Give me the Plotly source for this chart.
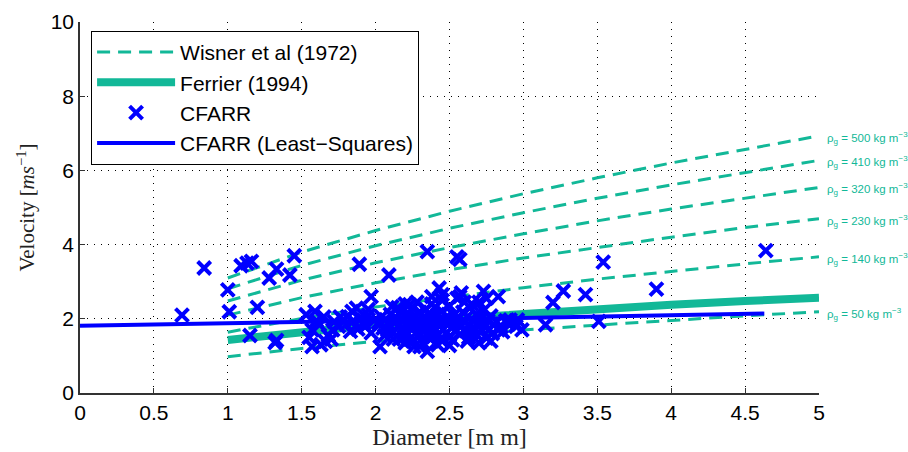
import plotly.graph_objects as go

# ---------------- data ----------------
wisner_d = [1.0, 1.5, 2.0, 2.5, 3.0, 3.5, 4.0, 4.5, 5.0]
wisner_rho = [500, 410, 320, 230, 140, 50]
wisner_v500 = [3.10, 3.80, 4.38, 4.90, 5.37, 5.80, 6.20, 6.57, 6.93]
wisner_v410 = [2.81, 3.44, 3.97, 4.44, 4.86, 5.25, 5.61, 5.95, 6.27]
wisner_v320 = [2.48, 3.04, 3.51, 3.92, 4.29, 4.64, 4.96, 5.26, 5.54]
wisner_v230 = [2.10, 2.57, 2.97, 3.32, 3.64, 3.93, 4.20, 4.46, 4.70]
wisner_v140 = [1.64, 2.01, 2.32, 2.59, 2.84, 3.07, 3.28, 3.48, 3.67]
wisner_v50 = [0.98, 1.20, 1.39, 1.55, 1.70, 1.83, 1.96, 2.08, 2.19]

ferrier_d = [1.0, 1.5, 2.0, 2.5, 3.0, 3.5, 4.0, 4.5, 5.0]
ferrier_v = [1.43, 1.65, 1.84, 2.00, 2.14, 2.27, 2.38, 2.48, 2.57]

ls_d = [0.0, 4.63]
ls_v = [1.81, 2.14]

cfarr_points = [
    (0.69, 2.10), (0.84, 3.37), (1.00, 2.78), (1.01, 2.19), (1.09, 3.43), (1.13, 3.50),
    (1.16, 3.55), (1.20, 2.31), (1.15, 1.55), (1.32, 1.36), (1.33, 1.42), (1.28, 3.10),
    (1.33, 3.34), (1.42, 3.18), (1.45, 3.70), (1.89, 3.47), (2.09, 3.18), (2.35, 3.81),
    (2.55, 3.67), (2.57, 3.60), (3.54, 3.53), (4.64, 3.84), (3.90, 2.80), (3.42, 2.65),
    (3.27, 2.75), (3.20, 2.44), (3.51, 1.93), (3.15, 1.84), (2.83, 2.60), (2.73, 2.74),
    (2.57, 2.60), (2.99, 1.70), (2.96, 1.97), (2.91, 1.97), (2.83, 1.70), (2.63, 1.49),
    (2.52, 1.43),
    (1.53, 2.11), (1.59, 2.20), (1.57, 1.70), (1.57, 1.25), (1.66, 1.39), (1.62, 1.84),
    (1.71, 1.70), (1.81, 2.06), (1.87, 2.29), (1.97, 2.60), (2.03, 1.25), (2.08, 1.70),
    (1.93, 1.79), (1.83, 1.66), (1.55, 1.50), (1.60, 1.95), (1.65, 2.05), (1.68, 1.55),
    (1.72, 1.92), (1.75, 1.80), (1.78, 1.98), (1.80, 1.85), (1.85, 1.95), (1.88, 1.72),
    (1.90, 2.02), (1.92, 1.88), (1.95, 2.10), (1.97, 1.62), (1.99, 1.95), (1.63, 1.30),
    (1.70, 1.45), (1.76, 2.05), (1.84, 2.20), (1.95, 2.25),
    (2.11, 2.33), (2.23, 2.38), (2.19, 1.52), (2.26, 1.25), (2.35, 1.12), (2.39, 1.52),
    (2.43, 2.83), (2.38, 2.60), (2.02, 1.90), (2.04, 2.05), (2.05, 1.75), (2.07, 1.98),
    (2.09, 1.85), (2.10, 2.12), (2.12, 1.65), (2.13, 1.92), (2.14, 2.02), (2.15, 1.80),
    (2.16, 1.45), (2.17, 2.20), (2.18, 1.95), (2.19, 1.70), (2.20, 2.05), (2.21, 1.88),
    (2.22, 1.60), (2.22, 2.15), (2.23, 1.78), (2.24, 1.98), (2.25, 1.40), (2.25, 2.28),
    (2.26, 1.85), (2.27, 2.08), (2.28, 1.65), (2.28, 1.95), (2.29, 1.52), (2.30, 2.18),
    (2.30, 1.80), (2.31, 1.90), (2.32, 1.35), (2.32, 2.02), (2.33, 1.72), (2.34, 2.25),
    (2.35, 1.95), (2.35, 1.60), (2.36, 1.85), (2.37, 2.10), (2.37, 1.45), (2.38, 1.78),
    (2.39, 2.00), (2.40, 1.68), (2.40, 2.30), (2.41, 1.90), (2.42, 1.55), (2.42, 2.12),
    (2.43, 1.82), (2.44, 1.98), (2.45, 1.40), (2.45, 2.20), (2.46, 1.72), (2.47, 1.92),
    (2.48, 2.05), (2.48, 1.62), (2.49, 1.85), (2.50, 2.35), (2.50, 1.50), (2.51, 1.95),
    (2.52, 1.78), (2.53, 2.10), (2.54, 1.68), (2.55, 1.88), (2.56, 2.02), (2.57, 1.58),
    (2.58, 1.80), (2.59, 2.18), (2.60, 1.92), (2.61, 1.70), (2.62, 2.05), (2.63, 1.82),
    (2.64, 2.30), (2.65, 1.62), (2.66, 1.95), (2.67, 1.75), (2.68, 2.12), (2.69, 1.55),
    (2.70, 1.88), (2.71, 2.00), (2.72, 1.68), (2.73, 2.22), (2.74, 1.80), (2.75, 1.48),
    (2.76, 1.95), (2.77, 1.72), (2.78, 2.08), (2.79, 1.60), (2.80, 1.85), (2.70, 2.45),
    (2.75, 2.55), (2.65, 2.40), (2.45, 2.50), (2.55, 2.55), (2.60, 2.45), (2.28, 2.45),
    (2.20, 2.40), (2.15, 2.30), (2.82, 1.92), (2.85, 1.78), (2.88, 1.95), (2.86, 1.65),
    (2.90, 1.85), (2.95, 1.80), (2.78, 1.40), (2.70, 1.35), (2.62, 1.40), (2.50, 1.28),
    (2.42, 1.30), (2.30, 1.25), (2.20, 1.35), (2.12, 1.45), (2.06, 1.55), (2.58, 2.70),
    (2.45, 2.65), (2.38, 2.40),
]
cfarr_d = [p[0] for p in cfarr_points]
cfarr_v = [p[1] for p in cfarr_points]

x_ticks = [0, 0.5, 1, 1.5, 2, 2.5, 3, 3.5, 4, 4.5, 5]
x_labels = ["0", "0.5", "1", "1.5", "2", "2.5", "3", "3.5", "4", "4.5", "5"]
y_ticks = [0, 2, 4, 6, 8, 10]
y_labels = ["0", "2", "4", "6", "8", "10"]

# ---------------- style ----------------
TEAL = "rgb(18,184,152)"
BLUE = "rgb(0,0,255)"
SANS = "Liberation Sans, Arial"
SERIF = "Liberation Serif, Times New Roman"

fig = go.Figure()

wisner_series = [wisner_v500, wisner_v410, wisner_v320, wisner_v230, wisner_v140, wisner_v50]
for i, (rho, vals) in enumerate(zip(wisner_rho, wisner_series)):
    fig.add_trace(go.Scatter(
        x=wisner_d, y=vals, mode="lines",
        line=dict(color=TEAL, width=3, dash="13px,8px"),
        name="Wisner et al (1972)", showlegend=(i == 0), legendgroup="w",
    ))

fig.add_trace(go.Scatter(
    x=ferrier_d, y=ferrier_v, mode="lines",
    line=dict(color=TEAL, width=8),
    name="Ferrier (1994)",
))

fig.add_trace(go.Scatter(
    x=cfarr_d, y=cfarr_v, mode="markers",
    marker=dict(symbol="x-thin", size=13, color=BLUE, line=dict(color=BLUE, width=4)),
    name="CFARR",
))

fig.add_trace(go.Scatter(
    x=ls_d, y=ls_v, mode="lines",
    line=dict(color=BLUE, width=4),
    name="CFARR (Least\u2212Squares)",
))

for rho, vals in zip(wisner_rho, wisner_series):
    fig.add_annotation(
        x=5.0, y=vals[-1], xref="x", yref="y", xanchor="left", yanchor="middle",
        xshift=6, yshift=-2,
        text=f"\u03c1<sub>g</sub> = {rho} kg m<sup>\u22123</sup>",
        showarrow=False, font=dict(family=SANS, size=11.5, color=TEAL),
    )

grid_dash = "1px,6px"
fig.update_xaxes(
    range=[0, 5], tickvals=x_ticks, ticktext=x_labels,
    showgrid=True, gridcolor="black", gridwidth=1, griddash=grid_dash,
    showline=True, linecolor="#333", linewidth=1.5, mirror=False,
    ticks="inside", ticklen=5, tickcolor="#333",
    zeroline=False, automargin=False,
    tickfont=dict(family=SANS, size=21, color="black"),
    title=dict(text="Diameter [m m]", standoff=4,
               font=dict(family=SERIF, size=24, color="#222")),
)
fig.update_yaxes(
    range=[0, 10], tickvals=y_ticks, ticktext=y_labels,
    showgrid=True, gridcolor="black", gridwidth=1, griddash=grid_dash,
    showline=True, linecolor="#333", linewidth=1.5, mirror=False,
    ticks="inside", ticklen=5, tickcolor="#333",
    zeroline=False, automargin=False,
    tickfont=dict(family=SANS, size=21, color="black"),
    title=dict(text="Velocity [<i>ms</i><sup>\u22121</sup>]", standoff=10,
               font=dict(family=SERIF, size=21, color="#222")),
)

fig.update_layout(
    width=908, height=452,
    margin=dict(l=80, r=89, t=22, b=59),
    paper_bgcolor="white", plot_bgcolor="white",
    showlegend=True,
    legend=dict(
        x=0.015, y=0.976, xanchor="left", yanchor="top",
        bgcolor="white", bordercolor="black", borderwidth=1,
        font=dict(family=SANS, size=21, color="black"),
        itemwidth=78, tracegroupgap=0,
    ),
)

fig.write_html("out.html")
